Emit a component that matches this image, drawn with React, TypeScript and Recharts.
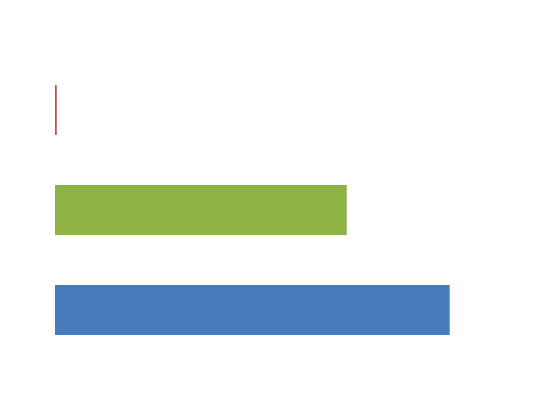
import React from "react";
import { Bar, BarChart, Cell, XAxis, YAxis } from "recharts";

const categories = ["A", "B", "C"];
const values = [0.4, 66.3, 89.7];
const colors = ["#C0504D", "#8EB244", "#467CBC"];

const data = categories.map((name, i) => ({ name, value: values[i] }));

const App: React.FC = () => {
  return (
    <div style={{ position: "absolute", left: 0, top: 0, background: "#fff" }}>
      <BarChart
        width={550}
        height={420}
        data={data}
        layout="vertical"
        margin={{ left: 55, right: 55, top: 60, bottom: 60 }}
        barCategoryGap="25%"
      >
        <XAxis type="number" domain={[0, 100]} hide />
        <YAxis type="category" dataKey="name" hide />
        <Bar dataKey="value" isAnimationActive={false}>
          {data.map((d, i) => (
            <Cell key={d.name} fill={colors[i]} />
          ))}
        </Bar>
      </BarChart>
    </div>
  );
};

export default App;
